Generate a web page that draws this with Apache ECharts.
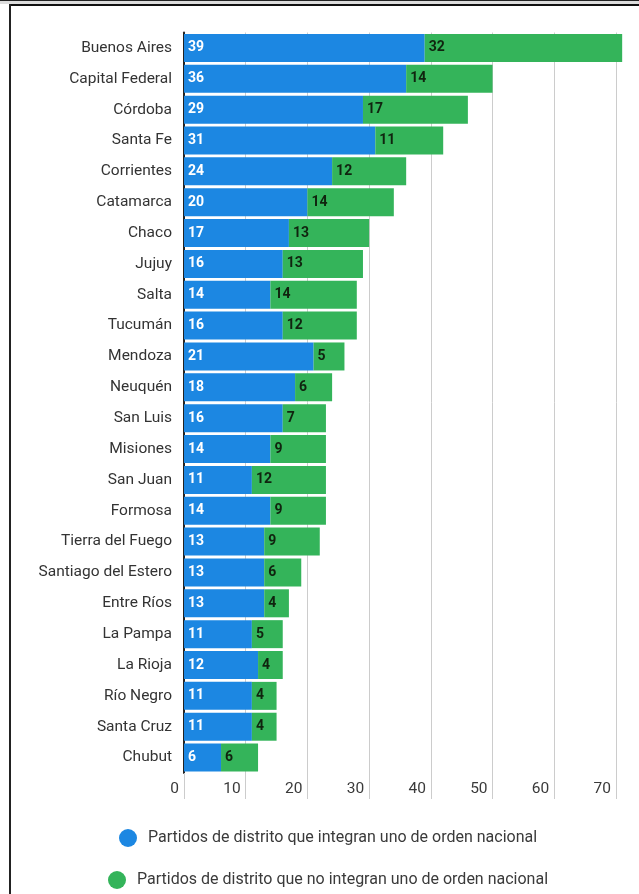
<!DOCTYPE html>
<html>
<head>
<meta charset="utf-8">
<script src="https://cdn.jsdelivr.net/npm/echarts@6/dist/echarts.min.js"></script>
<style>
  html, body { margin: 0; padding: 0; background: #fff; }
  #chart { position: absolute; left: 0; top: 0; width: 639px; height: 894px; }
  .f { position: absolute; z-index: 5; }
</style>
</head>
<body>
<div id="chart"></div>
<div class="f" style="left:0;top:0;width:639px;height:1px;background:#222;"></div>
<div class="f" style="left:0;top:1px;width:639px;height:3px;background:#dcdcdc;"></div>
<div class="f" style="left:9px;top:4px;width:630px;height:2px;background:#111;"></div>
<div class="f" style="left:9px;top:4px;width:2px;height:890px;background:#222;"></div>
<script>
const categories = ["Buenos Aires","Capital Federal","Córdoba","Santa Fe","Corrientes","Catamarca","Chaco","Jujuy","Salta","Tucumán","Mendoza","Neuquén","San Luis","Misiones","San Juan","Formosa","Tierra del Fuego","Santiago del Estero","Entre Ríos","La Pampa","La Rioja","Río Negro","Santa Cruz","Chubut"];
const integran = [39,36,29,31,24,20,17,16,14,16,21,18,16,14,11,14,13,13,13,11,12,11,11,6];
const noIntegran = [32,14,17,11,12,14,13,13,14,12,5,6,7,9,12,9,9,6,4,5,4,4,4,6];
const seriesNames = ["Partidos de distrito que integran uno de orden nacional","Partidos de distrito que no integran uno de orden nacional"];

const chart = echarts.init(document.getElementById('chart'), null, {renderer: 'canvas'});
const font = 'Roboto, sans-serif';
chart.setOption({
  backgroundColor: 'transparent',
  animation: false,
  textStyle: { fontFamily: font },
  grid: { left: 184, right: 23, top: 32.5, bottom: 121, containLabel: false },
  legend: [
    { data: [seriesNames[0]], left: 114, top: 824, icon: 'circle', itemWidth: 18, itemHeight: 18,
      textStyle: { fontFamily: font, fontSize: 16, color: '#3a3a3a', padding: [0,0,0,6] } },
    { data: [seriesNames[1]], left: 103, top: 866, icon: 'circle', itemWidth: 18, itemHeight: 18,
      textStyle: { fontFamily: font, fontSize: 16, color: '#3a3a3a', padding: [0,0,0,6] } }
  ],
  xAxis: {
    type: 'value', min: 0, max: 70, interval: 10,
    axisLine: { show: false },
    axisTick: { show: true, length: 26, lineStyle: { color: '#cccccc' } },
    splitLine: { show: true, lineStyle: { color: '#cccccc' } },
    axisLabel: { fontFamily: font, fontSize: 15.5, color: '#3a3a3a', align: 'right', margin: 8, padding: [0,5,0,0] }
  },
  yAxis: {
    type: 'category', data: categories, inverse: true,
    axisLine: { show: true, lineStyle: { color: '#222', width: 2 } },
    axisTick: { show: false },
    axisLabel: { fontFamily: font, fontSize: 15.5, color: '#333', margin: 12 }
  },
  series: [
    { name: seriesNames[0], type: 'bar', stack: 'a', data: integran, barWidth: 28, clip: false,
      itemStyle: { color: '#1c87e2' },
      label: { show: true, position: 'insideLeft', distance: 4, color: '#fff', fontWeight: 'bold', fontSize: 14, fontFamily: font } },
    { name: seriesNames[1], type: 'bar', stack: 'a', data: noIntegran, barWidth: 28, clip: false,
      itemStyle: { color: '#34b45a' },
      label: { show: true, position: 'insideLeft', distance: 4, color: '#10240f', fontWeight: 'bold', fontSize: 14, fontFamily: font } }
  ]
});
</script>
</body>
</html>
